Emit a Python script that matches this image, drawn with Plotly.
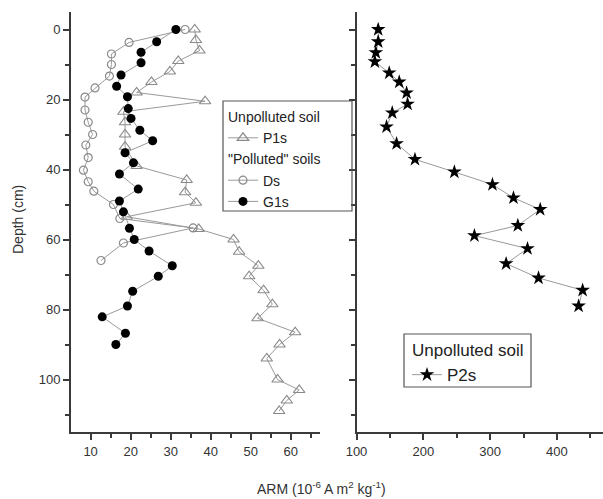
import plotly.graph_objects as go

# ---- data ----
p1s_depth = [0, 3, 6, 9, 12, 15, 18, 20.5, 23.5, 26.5, 30, 33.5, 39, 43, 46.5, 49.5,
             53.5, 57, 60, 63.5, 67.5, 70.5, 74.5, 78.5, 82.5, 86.5, 90, 94, 100, 103, 106, 109]
p1s_arm = [36, 36.3, 37.2, 31.9, 29.8, 25.2, 21.5, 38.6, 18.2, 18.6, 18.6, 18.6, 21.5, 34, 33.6, 36.3,
           19, 37, 45.7, 47.1, 51.9, 49.6, 53.2, 55.4, 51.7, 61.1, 57.2, 54, 56.7, 62.1, 59, 57.1]

ds_depth = [0, 3.7, 7, 10, 13.3, 16.7, 19.3, 23, 26.5, 30, 33, 36.6, 40.2, 43.5, 46.2, 50, 54, 56.7, 61, 66]
ds_arm = [33.6, 19.6, 15.2, 15.2, 14.7, 11.1, 8.6, 8.6, 9.4, 10.5, 8.8, 9.4, 8.2, 9.4, 10.8, 15.7, 17.3, 35.6, 18.2, 12.6]

g1s_depth = [0, 3.5, 6.5, 9.5, 13, 16.2, 19.2, 22.6, 25.4, 28.8, 31.8, 35.2, 38.1, 41.3, 45.6, 49, 52.1,
             56.8, 60, 63.3, 67.5, 70.5, 74.8, 79, 82.1, 86.8, 90]
g1s_arm = [31.3, 26.5, 22.6, 22.6, 17.6, 16.5, 19.2, 19.4, 20.1, 22.3, 25.5, 18.6, 20.7, 17.2, 21.9, 17.2, 18.2,
           19.7, 20.9, 24.6, 30.4, 26.9, 20.5, 19.2, 12.9, 18.7, 16.3]

p2s_depth = [0, 3.5, 6.6, 9.2, 12.4, 15, 18.1, 21.3, 23.8, 27.8, 32.6, 37.1, 40.7, 44.3, 48.1, 51.4,
             56, 58.9, 62.6, 66.9, 71, 74.5, 79]
p2s_arm = [132.5, 132.5, 129, 127.5, 149, 164, 175, 176.5, 153.5, 145, 160, 187.5, 246.5, 303.5, 335, 375,
           341.5, 276.5, 356, 324, 372.5, 438.5, 432.5]

W, H = 603, 499
FONT = "Liberation Sans, Arial, sans-serif"
AX = "#3a3a3a"
LINE = "#9a9a9a"


def px(x):
    return x / W


def py(y):
    return (H - y) / H


fig = go.Figure()
fig.add_trace(go.Scatter(x=p1s_arm, y=p1s_depth, mode="lines+markers", name="P1s",
                         line=dict(color=LINE, width=1),
                         marker=dict(symbol="triangle-up-open", size=10, color="#8a8a8a", line=dict(width=1.2)),
                         legend="legend", legendgroup="u", legendgrouptitle_text="Unpolluted soil",
                         xaxis="x", yaxis="y"))
fig.add_trace(go.Scatter(x=ds_arm, y=ds_depth, mode="lines+markers", name="Ds",
                         line=dict(color=LINE, width=1),
                         marker=dict(symbol="circle-open", size=8, color="#8a8a8a", line=dict(width=1.2)),
                         legend="legend", legendgroup="p", legendgrouptitle_text="\"Polluted\" soils",
                         xaxis="x", yaxis="y"))
fig.add_trace(go.Scatter(x=g1s_arm, y=g1s_depth, mode="lines+markers", name="G1s",
                         line=dict(color=LINE, width=1),
                         marker=dict(symbol="circle", size=9, color="black"),
                         legend="legend", legendgroup="p",
                         xaxis="x", yaxis="y"))
fig.add_trace(go.Scatter(x=p2s_arm, y=p2s_depth, mode="lines+markers", name="P2s",
                         line=dict(color=LINE, width=1),
                         marker=dict(symbol="star", size=11, color="black"),
                         legend="legend2", legendgroup="u2", legendgrouptitle_text="Unpolluted soil",
                         xaxis="x2", yaxis="y2"))

ydom = [py(432), py(12)]
axis_common = dict(showline=True, linecolor=AX, linewidth=2, mirror=False, showgrid=False, zeroline=False,
                   ticks="outside", ticklen=6, tickwidth=1.5, tickcolor=AX, automargin=False,
                   tickfont=dict(family=FONT, size=13, color="#333"))

fig.update_layout(
    width=W, height=H, margin=dict(l=0, r=0, t=0, b=0, autoexpand=False),
    paper_bgcolor="white", plot_bgcolor="white",
    font=dict(family=FONT, size=13, color="#333"),
    xaxis=dict(domain=[px(71), px(320)], range=[5.1, 67.3], dtick=10, tick0=0, anchor="y",
               minor=dict(ticks="outside", ticklen=4, dtick=5, tick0=0, tickcolor=AX, tickwidth=1.5),
               **axis_common),
    yaxis=dict(domain=ydom, range=[115, -5], dtick=20, tick0=0, anchor="x",
               minor=dict(ticks="outside", ticklen=4, dtick=10, tick0=0, tickcolor=AX, tickwidth=1.5),
               **axis_common),
    xaxis2=dict(domain=[px(356.5), 1.0], range=[100, 469], dtick=100, tick0=0, anchor="y2",
                minor=dict(ticks="outside", ticklen=4, dtick=50, tick0=0, tickcolor=AX, tickwidth=1.5),
                **axis_common),
    yaxis2=dict(domain=ydom, range=[115, -5], dtick=20, tick0=0, anchor="x2", showticklabels=False,
                minor=dict(ticks="outside", ticklen=4, dtick=10, tick0=0, tickcolor=AX, tickwidth=1.5),
                **axis_common),
    legend=dict(x=px(223), y=py(101), xanchor="left", yanchor="top",
                borderwidth=0, bgcolor="rgba(0,0,0,0)",
                font=dict(family=FONT, size=14, color="#222"),
                grouptitlefont=dict(family=FONT, size=14, color="#222"),
                tracegroupgap=0, traceorder="grouped"),
    legend2=dict(x=px(407), y=py(332), xanchor="left", yanchor="top",
                 borderwidth=0, bgcolor="rgba(0,0,0,0)",
                 font=dict(family=FONT, size=17, color="#222"),
                 grouptitlefont=dict(family=FONT, size=17, color="#222"),
                 tracegroupgap=0),
    showlegend=True,
)

# legend frames
fig.add_shape(type="rect", xref="paper", yref="paper", x0=px(223), x1=px(352), y0=py(211), y1=py(101),
              line=dict(color="#555", width=1.2), fillcolor="rgba(0,0,0,0)", layer="above")
fig.add_shape(type="rect", xref="paper", yref="paper", x0=px(404), x1=px(531), y0=py(387), y1=py(334),
              line=dict(color="#555", width=1.2), fillcolor="rgba(0,0,0,0)", layer="above")

fig.add_annotation(text="ARM (10<sup>-6</sup> A m<sup>2</sup> kg<sup>-1</sup>)", xref="paper", yref="paper",
                   x=px(321), y=py(488), xanchor="center", yanchor="middle", showarrow=False,
                   font=dict(family=FONT, size=14, color="#333"))
fig.add_annotation(text="Depth (cm)", xref="paper", yref="paper", textangle=-90,
                   x=px(18), y=py(220), xanchor="center", yanchor="middle", showarrow=False,
                   font=dict(family=FONT, size=14, color="#333"))

fig.write_html("out.html", config={"displayModeBar": False},
               post_script="document.body.style.margin='0';")
